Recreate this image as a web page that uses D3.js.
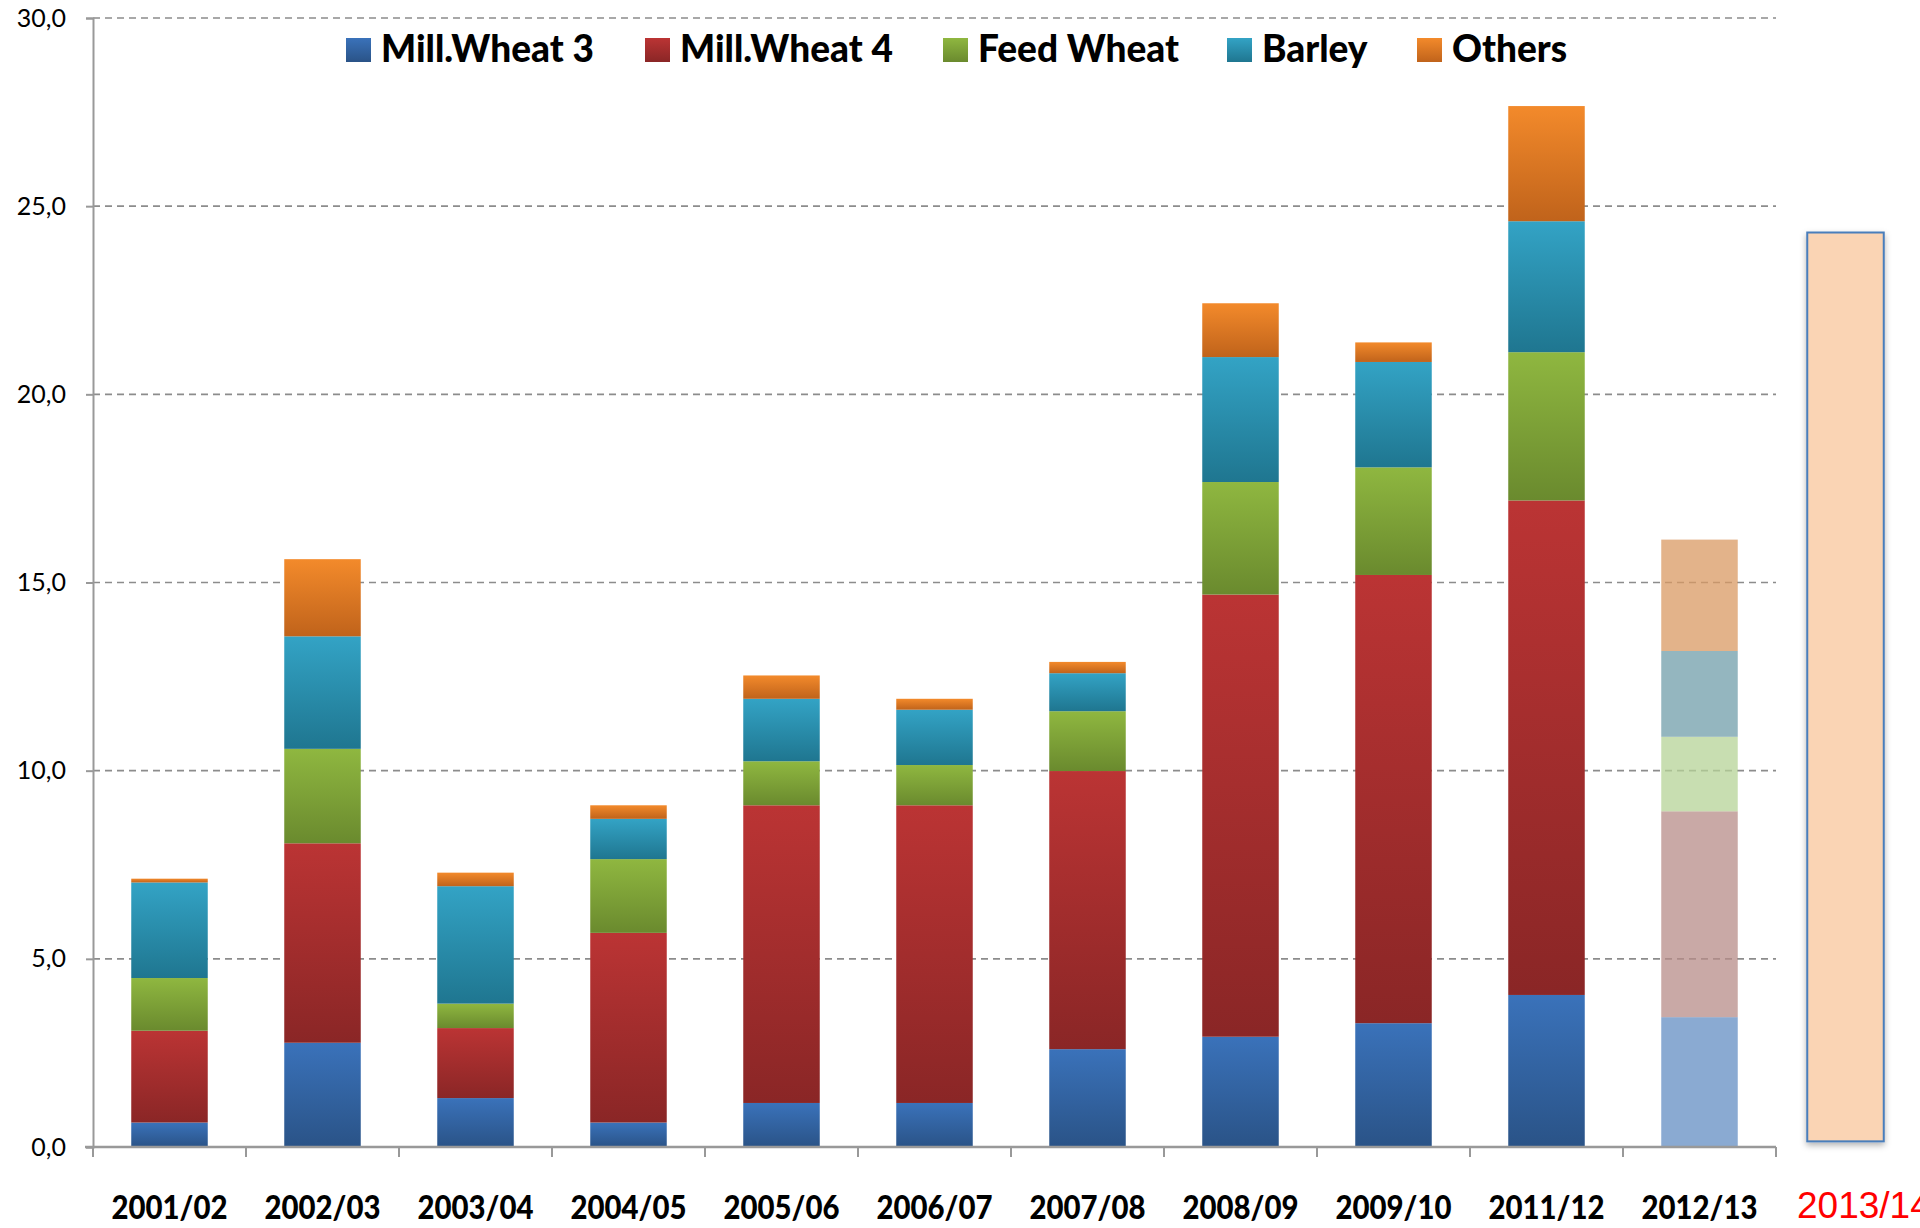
<!DOCTYPE html>
<html><head><meta charset="utf-8">
<script src="https://cdn.jsdelivr.net/npm/d3@7"></script>
<style>html,body{margin:0;padding:0;background:#fff;overflow:hidden}</style>
</head><body>
<svg id="chart" width="1920" height="1228"></svg>
<script>
const categories = ["2001/02","2002/03","2003/04","2004/05","2005/06","2006/07","2007/08","2008/09","2009/10","2011/12","2012/13"];
const projectionLabel = "2013/14";
const projectionValue = [24.3];
const seriesNames = ["Mill.Wheat 3","Mill.Wheat 4","Feed Wheat","Barley","Others"];
const millWheat3 = [0.65,2.77,1.30,0.65,1.17,1.17,2.60,2.93,3.29,4.04,3.45];
const millWheat4 = [2.44,5.30,1.86,5.04,7.91,7.91,7.39,11.75,11.91,13.14,5.47];
const feedWheat  = [1.40,2.51,0.65,1.96,1.17,1.07,1.59,2.99,2.86,3.94,1.98];
const barley     = [2.54,2.99,3.12,1.07,1.66,1.47,1.01,3.32,2.80,3.48,2.28];
const others     = [0.10,2.05,0.36,0.36,0.62,0.29,0.30,1.43,0.52,3.06,2.96];
const yTicks = [0,5,10,15,20,25,30];
const fadedCategory = "2012/13";

const topCol  = ["#3a72ba","#bb3434","#8fb740","#33a3c5","#f38a2b"];
const botCol  = ["#2a5387","#8a2626","#6a8a2e","#1f7690","#c0631b"];
const paleCol = ["#638ec3","#b78c88","#b6d397","#709eaa","#da9a63"];

const svg = d3.select("#chart");
const defs = svg.append("defs");
topCol.forEach((c,i)=>{
  const g = defs.append("linearGradient").attr("id","g"+i).attr("x1",0).attr("y1",0).attr("x2",0).attr("y2",1);
  g.append("stop").attr("offset","0%").attr("stop-color",c);
  g.append("stop").attr("offset","100%").attr("stop-color",botCol[i]);
});
const f = defs.append("filter").attr("id","sh").attr("x","-20%").attr("y","-5%").attr("width","140%").attr("height","115%");
f.append("feDropShadow").attr("dx",0).attr("dy",3).attr("stdDeviation",3).attr("flood-color","#000").attr("flood-opacity",0.3);

const x0 = 93, step = (1776 - 93) / 11;
const allCats = categories.concat([projectionLabel]);
const x = d3.scaleBand().domain(allCats).range([x0, x0 + step*12]).paddingInner(0.5).paddingOuter(0.25);
const y = d3.scaleLinear().domain([0,30]).range([1147,18]);

// gridlines
svg.append("g").selectAll("line").data(yTicks.filter(d=>d>0)).join("line")
  .attr("x1",x0).attr("x2",x0+step*11).attr("y1",d=>y(d)).attr("y2",d=>y(d))
  .attr("stroke","#8c8c8c").attr("stroke-width",1.6).attr("stroke-dasharray","7,5");

// y axis
const yAxis = svg.append("g").attr("transform",`translate(${x0},0)`)
  .call(d3.axisLeft(y).tickValues(yTicks).tickSize(7).tickFormat(d=>d3.format(".1f")(d).replace(".",",")));
yAxis.select(".domain").attr("stroke","#999").attr("stroke-width",2);
yAxis.selectAll(".tick line").attr("stroke","#999").attr("stroke-width",2);
yAxis.selectAll("text").attr("font-family","Lato, 'Open Sans', sans-serif").attr("font-size",25).attr("fill","#000").attr("x",-27);

// stacked data
const table = categories.map((c,i)=>({cat:c, "Mill.Wheat 3":millWheat3[i], "Mill.Wheat 4":millWheat4[i], "Feed Wheat":feedWheat[i], "Barley":barley[i], "Others":others[i]}));
const stacked = d3.stack().keys(seriesNames)(table);

const barsG = svg.append("g");
stacked.forEach((layer,si)=>{
  barsG.append("g").selectAll("rect").data(layer).join("rect")
    .attr("x",d=>x(d.data.cat)).attr("width",x.bandwidth())
    .attr("y",d=>y(d[1])).attr("height",d=>y(d[0])-y(d[1]))
    .attr("fill",d=>d.data.cat===fadedCategory ? paleCol[si] : `url(#g${si})`)
    .attr("fill-opacity",d=>d.data.cat===fadedCategory ? 0.75 : 1);
});

// projection bar
svg.append("g").selectAll("rect").data(projectionValue).join("rect")
  .attr("x",x(projectionLabel)-7).attr("width",x.bandwidth())
  .attr("y",d=>y(d)).attr("height",d=>y(0.15)-y(d))
  .attr("fill","#fad4b4").attr("stroke","#4a7ebb").attr("stroke-width",2)
  .attr("filter","url(#sh)");

// x axis
const xAxisG = svg.append("g");
xAxisG.append("line").attr("x1",x0-8).attr("x2",x0+step*11).attr("y1",y(0)).attr("y2",y(0)).attr("stroke","#999").attr("stroke-width",2.5);
xAxisG.selectAll("line.tk").data(d3.range(12)).join("line").attr("class","tk")
  .attr("x1",i=>x0+i*step).attr("x2",i=>x0+i*step).attr("y1",y(0)).attr("y2",y(0)+10)
  .attr("stroke","#999").attr("stroke-width",2);
xAxisG.selectAll("text.cl").data(categories).join("text").attr("class","cl")
  .attr("x",d=>x(d)+x.bandwidth()/2).attr("y",1219).attr("text-anchor","middle")
  .attr("font-family","Lato, 'Open Sans', sans-serif").attr("font-weight",900).attr("font-size",32)
  .attr("textLength",116).attr("lengthAdjust","spacingAndGlyphs")
  .attr("fill","#000").text(d=>d);
xAxisG.append("text").attr("x",1797).attr("y",1218)
  .attr("font-family","'Liberation Sans', Arial, sans-serif").attr("font-size",37).attr("fill","#ff0000").text(projectionLabel);

// legend
const legendX = [346,645,943,1227,1417];
const lg = svg.append("g").selectAll("g").data(seriesNames).join("g")
  .attr("transform",(d,i)=>`translate(${legendX[i]},0)`);
lg.append("rect").attr("x",0).attr("y",38).attr("width",25).attr("height",24).attr("fill",(d,i)=>`url(#g${i})`);
lg.append("text").attr("x",35).attr("y",62).attr("font-family","Lato, 'Open Sans', sans-serif").attr("font-weight",900)
  .attr("font-size",37).attr("fill","#000").text(d=>d);
</script>
</body></html>
